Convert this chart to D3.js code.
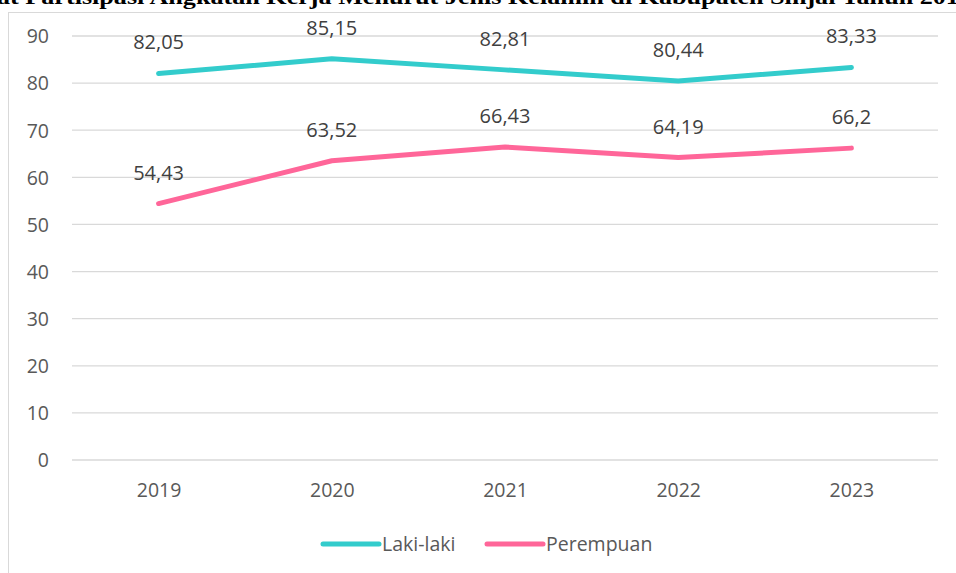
<!DOCTYPE html>
<html>
<head>
<meta charset="utf-8">
<script src="https://cdn.jsdelivr.net/npm/d3@7"></script>
<style>
  body { margin: 0; background: #fff; }
  svg { display: block; font-family: "Open Sans", sans-serif; }
</style>
</head>
<body>
<svg id="chart" width="956" height="573"></svg>
<script>
const years = ['2019', '2020', '2021', '2022', '2023'];
const lakiLaki = [82.05, 85.15, 82.81, 80.44, 83.33];
const perempuan = [54.43, 63.52, 66.43, 64.19, 66.2];
const yTicks = [0, 10, 20, 30, 40, 50, 60, 70, 80, 90];
const titleText = 'at Partisipasi Angkatan Kerja Menurut Jenis Kelamin di Kabupaten Sinjai Tahun 2019';

const series = [
  { name: 'Laki-laki', values: lakiLaki, color: '#33CCCC' },
  { name: 'Perempuan', values: perempuan, color: '#FF6699' }
];

const svg = d3.select('#chart');

// chart frame, cut off at top like the source
svg.append('rect')
  .attr('x', 8.5).attr('y', 12.5)
  .attr('width', 960).attr('height', 600)
  .attr('fill', 'none')
  .attr('stroke', '#d9d9d9')
  .attr('stroke-width', 1);

// title, mostly cropped above the image
svg.append('text')
  .attr('x', -3).attr('y', 4)
  .attr('font-family', '"Liberation Serif", "DejaVu Serif", serif')
  .attr('font-weight', 'bold')
  .attr('font-size', 20)
  .attr('textLength', 975)
  .attr('lengthAdjust', 'spacingAndGlyphs')
  .attr('fill', '#000')
  .text(titleText);

const x = d3.scalePoint().domain(years).range([72, 938]).padding(0.5);
const y = d3.scaleLinear().domain([0, 90]).range([460, 36]);

// gridlines
svg.append('g')
  .selectAll('line')
  .data(yTicks)
  .join('line')
  .attr('x1', 72).attr('x2', 938)
  .attr('y1', d => y(d)).attr('y2', d => y(d))
  .attr('stroke', '#d9d9d9')
  .attr('stroke-width', 1.3);

// y axis labels
const yAxis = d3.axisLeft(y).tickValues(yTicks).tickSize(0).tickPadding(0);
svg.append('g')
  .attr('transform', 'translate(49,0)')
  .call(yAxis)
  .call(g => g.select('.domain').remove())
  .call(g => g.selectAll('text')
    .attr('font-family', '"Open Sans", sans-serif')
    .attr('font-size', 19.5)
    .attr('fill', '#595959')
    .attr('dy', '0.35em'));

// x axis labels
const xAxis = d3.axisBottom(x).tickSize(0).tickPadding(0);
svg.append('g')
  .attr('transform', 'translate(0,485)')
  .call(xAxis)
  .call(g => g.select('.domain').remove())
  .call(g => g.selectAll('text')
    .attr('font-family', '"Open Sans", sans-serif')
    .attr('font-size', 19.5)
    .attr('fill', '#595959')
    .attr('dy', '0.6em'));

const line = d3.line()
  .x((d, i) => x(years[i]))
  .y(d => y(d));

series.forEach(s => {
  svg.append('path')
    .datum(s.values)
    .attr('d', line)
    .attr('fill', 'none')
    .attr('stroke', s.color)
    .attr('stroke-width', 5)
    .attr('stroke-linecap', 'round')
    .attr('stroke-linejoin', 'round');

  svg.append('g')
    .selectAll('text')
    .data(s.values)
    .join('text')
    .attr('x', (d, i) => x(years[i]))
    .attr('y', d => y(d) - 24)
    .attr('text-anchor', 'middle')
    .attr('font-size', 20)
    .attr('fill', '#404040')
    .text(d => String(d).replace('.', ','));
});

// legend
const legendItems = [
  { s: series[0], x1: 323, x2: 379, tx: 382 },
  { s: series[1], x1: 487, x2: 543, tx: 546 }
];
legendItems.forEach(it => {
  svg.append('line')
    .attr('x1', it.x1).attr('x2', it.x2)
    .attr('y1', 544).attr('y2', 544)
    .attr('stroke', it.s.color)
    .attr('stroke-width', 5)
    .attr('stroke-linecap', 'round');
  svg.append('text')
    .attr('x', it.tx).attr('y', 544)
    .attr('dy', '0.35em')
    .attr('font-size', 19.5)
    .attr('fill', '#595959')
    .text(it.s.name);
});
</script>
</body>
</html>
